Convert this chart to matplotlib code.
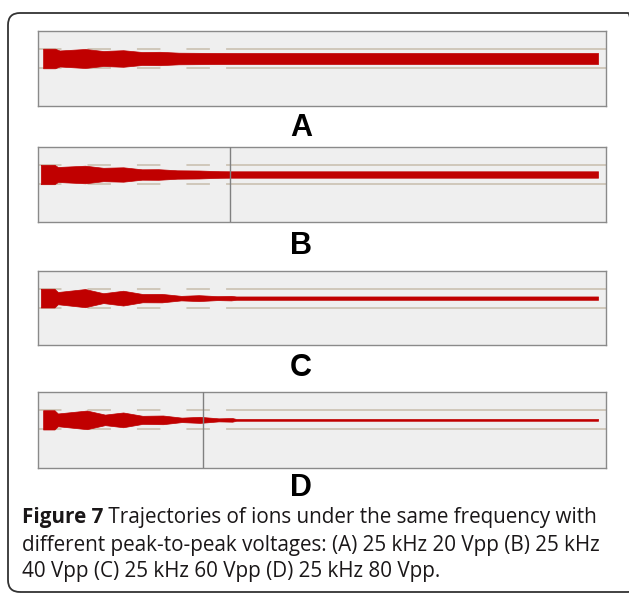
"""Рис. 7: траектории ионов при одной частоте и разных размахах напряжения."""

import matplotlib
matplotlib.use("Agg")
import matplotlib.pyplot as plt
from matplotlib.patches import FancyBboxPatch

# огибающая пучка: время (0..100, усл. ед.) и полуширина (усл. ед.)
T_A = [0.9, 3.0, 3.8, 8.3, 11.5, 15.0, 18.3, 21.5, 24.8, 30.0, 34.9, 98.6]
H_A = [9.8, 9.8, 8.0, 9.5, 7.5, 8.3, 6.5, 6.7, 5.8, 5.6, 5.5, 5.5]

T_B = [0.5, 2.9, 3.5, 8.3, 11.5, 15.0, 18.3, 21.2, 24.5, 28.3, 32.0, 34.0, 98.6]
H_B = [9.7, 9.7, 7.5, 8.8, 6.7, 7.2, 5.2, 5.3, 4.2, 4.0, 3.3, 3.2, 3.2]

T_C = [0.5, 2.9, 3.5, 8.3, 11.5, 15.0, 18.4, 21.8, 25.2, 28.3, 31.6, 34.0, 34.9, 98.6]
H_C = [9.5, 9.5, 6.2, 9.2, 5.0, 7.5, 4.2, 4.3, 2.3, 3.0, 2.0, 2.3, 1.7, 1.7]

T_D = [0.9, 2.9, 3.5, 8.6, 11.8, 15.0, 18.4, 22.0, 25.3, 28.5, 31.8, 34.2, 34.9, 98.6]
H_D = [9.5, 9.5, 6.3, 9.2, 5.2, 7.3, 4.0, 4.3, 2.2, 3.0, 1.5, 1.8, 0.9, 0.9]

PANELS = ["A", "B", "C", "D"]
MARKER = {"B": 33.8, "D": 29.0}      # вертикальная метка времени
GRID_Y = 9.5                          # линии сетки +-

CAPTION_BOLD = "Figure 7"
CAPTION = [" Trajectories of ions under the same frequency with",
           "different peak-to-peak voltages: (A) 25 kHz 20 Vpp (B) 25 kHz",
           "40 Vpp (C) 25 kHz 60 Vpp (D) 25 kHz 80 Vpp."]

RED = "#c00000"
GRIDC = "#cdc4b6"

fig = plt.figure(figsize=(6.29, 5.94), dpi=100)

# рамка рисунка со скруглёнными углами
frame = FancyBboxPatch((0.08, 0.02), 6.32, 5.79,
                       boxstyle="round,pad=0,rounding_size=0.12",
                       transform=fig.dpi_scale_trans, fill=False,
                       edgecolor="#333333", lw=1.3)
fig.patches.append(frame)

# положение осей в пикселях: (верх, низ)
boxes = {"A": (31, 106), "B": (147, 222), "C": (271, 345), "D": (392, 468)}
labels_y = {"A": 128, "B": 246, "C": 368, "D": 488}
data = {"A": (T_A, H_A), "B": (T_B, H_B), "C": (T_C, H_C), "D": (T_D, H_D)}

W, H = 629, 594
for p in PANELS:
    top, bot = boxes[p]
    ax = fig.add_axes([38 / W, 1 - bot / H, 568 / W, (bot - top) / H])
    ax.set_facecolor("#efefef")
    for s in ax.spines.values():
        s.set_color("#8a8a8a")
        s.set_linewidth(1.0)
    ax.set_xlim(0, 100)
    ax.set_ylim(-47.5, 27.5)
    ax.set_xticks([])
    ax.set_yticks([])

    for y in (GRID_Y, -GRID_Y):
        ax.axhline(y, xmin=0, xmax=0.333, color=GRIDC, lw=1.3,
                   ls=(0, (13, 14.4)), zorder=1)
        ax.axhline(y, xmin=0.333, xmax=1, color=GRIDC, lw=1.3, zorder=1)

    t, h = data[p]
    ax.fill_between(t, [-v for v in h], h, color=RED, lw=0.5,
                    edgecolor=RED, zorder=2)

    if p in MARKER:
        ax.axvline(MARKER[p], color="#808080", lw=1.0, zorder=3)

    fig.text(301 / W, 1 - labels_y[p] / H, p, ha="center", va="center",
             fontsize=22, fontweight="bold", family="Liberation Sans")

# подпись
cap_font = dict(family="Open Sans", fontsize=14.85, color="#1a1718", va="center")
y0 = 518
t0 = fig.text(22 / W, 1 - y0 / H, CAPTION_BOLD, fontweight="bold", **cap_font)
fig.canvas.draw()
bb = t0.get_window_extent()
fig.text(bb.x1 / W, 1 - y0 / H, CAPTION[0], **cap_font)
for i, line in enumerate(CAPTION[1:], start=1):
    fig.text(22 / W, 1 - (y0 + 27 * i) / H, line, **cap_font)

fig.savefig("out.png", dpi=100)
